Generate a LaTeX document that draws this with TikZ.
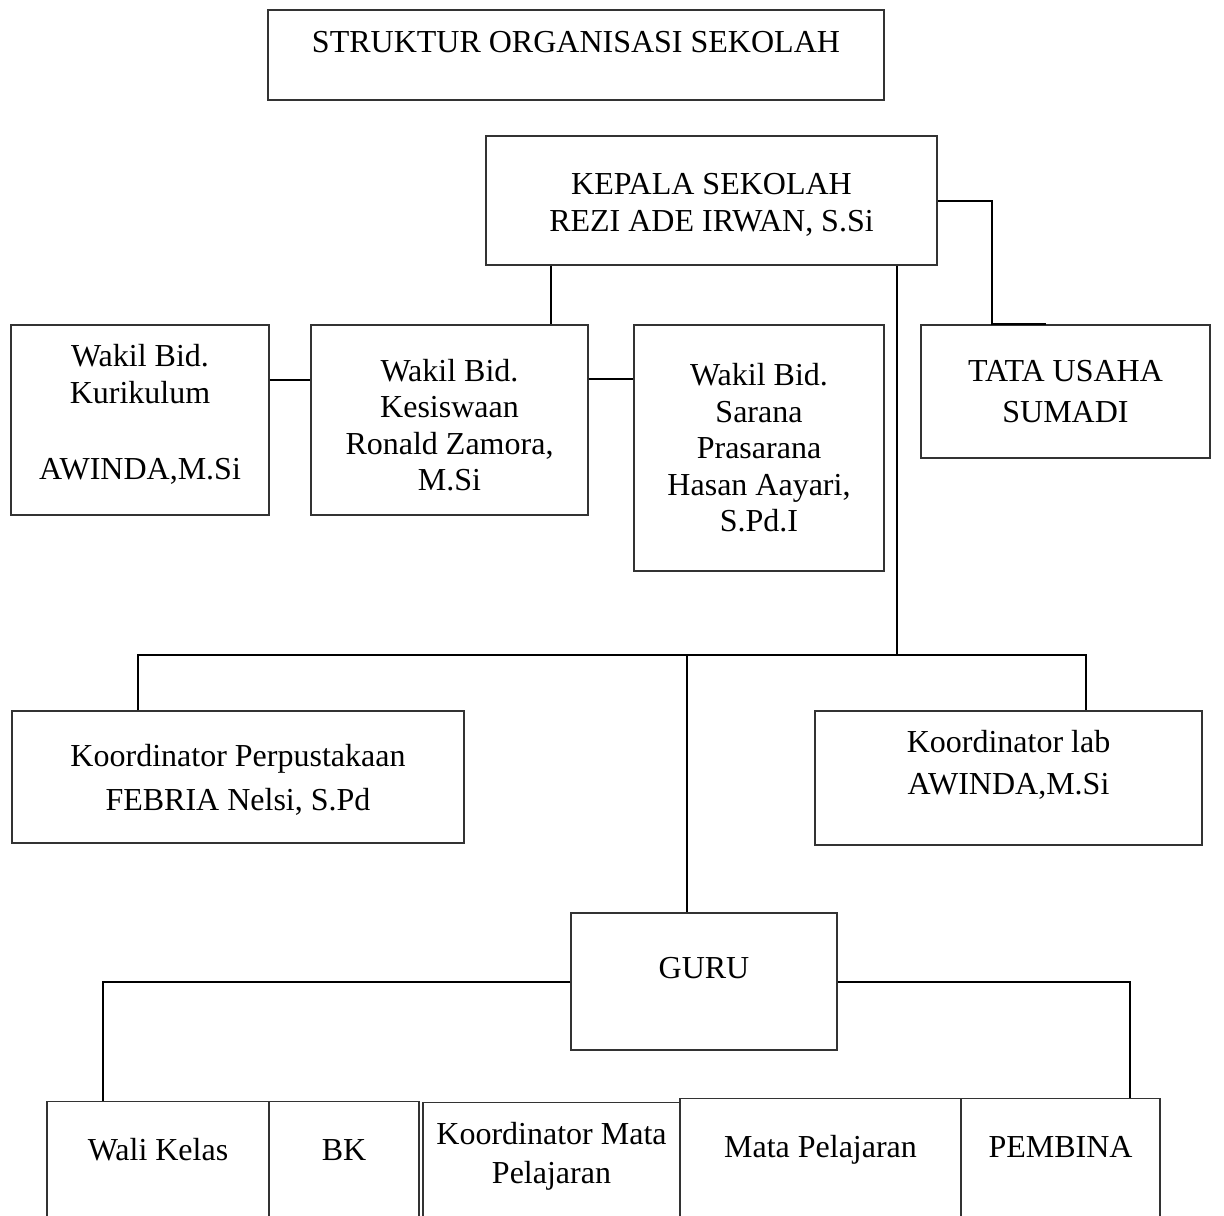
\documentclass[tikz,border=0pt]{standalone}
\usepackage{fontspec}
\setmainfont{Liberation Serif}
\usetikzlibrary{calc,positioning}
\tikzset{
  org box/.style={draw=black!80,line width=.6pt,align=center,inner sep=2pt,
    font=\fontsize{16}{18.25}\selectfont,text=black},
  base box/.style={org box,anchor=north,minimum height=80pt,text depth=32pt},
  link/.style={line width=1pt,black}
}

\begin{document}
\begin{tikzpicture}[x=.5pt,y=-.5pt]
  \useasboundingbox (0,0) rectangle (1224,1215);
  \fill[white] (0,0) rectangle (1224,1215);

  % Title and head of school.
  \node[org box,minimum width=308pt,minimum height=45pt,text depth=13pt]
    (title) at (576,55) {STRUKTUR ORGANISASI SEKOLAH};
  \node[org box,minimum width=225.5pt,minimum height=64.5pt,text height=30.85pt,text depth=0pt]
    (kepala) at (711.5,200.5) {KEPALA SEKOLAH\\REZI ADE IRWAN, S.Si};
  \node[org box,minimum width=144.5pt,minimum height=66.5pt]
    (tu) at (1065.5,391.5) {TATA USAHA\\[2.25pt]SUMADI};

  % Deputies.
  \node[org box,minimum width=129pt,minimum height=95pt,text depth=7.7pt]
    (kurikulum) at (140,420) {Wakil Bid.\\Kurikulum\\[20pt]AWINDA,M.Si};
  \node[org box,minimum width=138.5pt,minimum height=95pt,text height=70.7pt,text depth=0pt]
    (kesiswaan) at (449.5,420) {Wakil Bid.\\Kesiswaan\\Ronald Zamora,\\M.Si};
  \node[org box,minimum width=125pt,minimum height=123pt]
    (sarana) at (759,448) {Wakil Bid.\\Sarana\\Prasarana\\Hasan Aayari,\\S.Pd.I};

  % Coordinators and teachers.
  \node[org box,minimum width=226pt,minimum height=66pt,text depth=0pt]
    (perpus) at (238,777) {Koordinator Perpustakaan\\[3.75pt]FEBRIA Nelsi, S.Pd};
  \node[org box,minimum width=193.5pt,minimum height=67pt,text depth=15.5pt]
    (lab) at (1008.5,778) {Koordinator lab\\[2.75pt]AWINDA,M.Si};
  \node[org box,minimum width=133pt,minimum height=68.5pt,text depth=13.5pt]
    (guru) at (704,981.5) {GURU};

  % Bottom row, cut by the page edge.
  \node[base box,minimum width=111pt] (wali) at (158,1101) {Wali Kelas};
  \node[base box,minimum width=75pt] (bk) at (344,1101) {BK};
  \node[base box,minimum width=128.5pt,text depth=30pt]
    (kmp) at (551.5,1102) {Koordinator Mata\\[1.25pt]Pelajaran};
  \node[base box,minimum width=140.5pt] (mapel) at (820.5,1098) {Mata Pelajaran};
  \node[base box,minimum width=99.5pt] (pembina) at (1060.5,1098) {PEMBINA};

  % Connectors.
  \draw[link] (kepala.east) -| ($(tu.north west)+(72,0)$) -- ($(tu.north west)+(126,0)$);
  \draw[link] ($(kepala.south west)+(66,0)$) coordinate (k0) -- (k0 |- kesiswaan.north);
  \draw[link] ($(kurikulum.north east)+(0,56)$) coordinate (k1) -- (k1 -| kesiswaan.west);
  \draw[link] ($(kesiswaan.north east)+(0,55)$) coordinate (k2) -- (k2 -| sarana.west);

  \coordinate (bus) at (687,655);
  \draw[link] ($(kepala.south east)+(-41,0)$) coordinate (k3) -- (k3 |- bus);
  \draw[link] ($(perpus.north west)+(127,0)$) |- (bus) -| ($(lab.north west)+(272,0)$);
  \draw[link] (bus) -- (bus |- guru.north);
  \draw[link] ($(guru.north west)+(0,70)$) -| ($(wali.north west)+(57,0)$);
  \draw[link] ($(guru.north east)+(0,70)$) -| ($(pembina.north west)+(170,0)$);
\end{tikzpicture}
\end{document}
